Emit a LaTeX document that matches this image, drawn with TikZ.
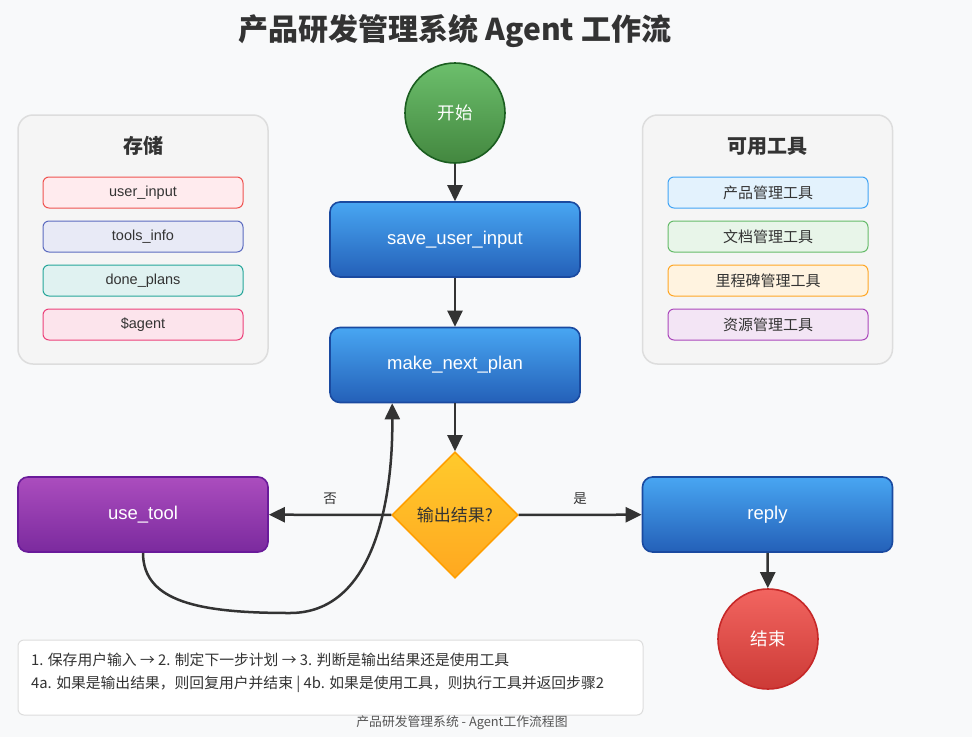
\documentclass[tikz,border=0pt]{standalone}
\usepackage{fontspec}
\setmainfont{Noto Sans CJK SC}
\newfontfamily\lat{Liberation Sans}
\usetikzlibrary{arrows.meta,shapes.geometric}
\definecolor{bg}{HTML}{F8F9FA}
\definecolor{ink}{HTML}{333333}
\definecolor{panelfill}{HTML}{F5F5F5}
\definecolor{panelline}{HTML}{DDDDDD}
\definecolor{bluetop}{HTML}{48A6F2}
\definecolor{bluebot}{HTML}{2460B8}
\definecolor{blueline}{HTML}{1A4AA0}
\definecolor{greentop}{HTML}{6CBF6C}
\definecolor{greenbot}{HTML}{43873F}
\definecolor{greenline}{HTML}{1B5E20}
\definecolor{redtop}{HTML}{F26560}
\definecolor{redbot}{HTML}{CC3A36}
\definecolor{redline}{HTML}{C62828}
\definecolor{purptop}{HTML}{AB4DBE}
\definecolor{purpbot}{HTML}{7B2A9E}
\definecolor{purpline}{HTML}{6A1B9A}
\definecolor{orgtop}{HTML}{FFCA2C}
\definecolor{orgbot}{HTML}{FFA820}
\definecolor{orgline}{HTML}{FF9F00}
\tikzset{
  every node/.style={text=ink},
  flowbox/.style={rounded corners=10pt, minimum width=250pt, minimum height=75pt, line width=1.6pt, text=white, font=\lat\fontsize{18.5}{20}\selectfont, inner sep=0pt},
  bluebox/.style={flowbox, draw=blueline, top color=bluetop, bottom color=bluebot},
  purpbox/.style={flowbox, draw=purpline, top color=purptop, bottom color=purpbot},
  roundnode/.style={circle, minimum size=100pt, line width=1.6pt, text=white, font=\fontsize{17.5}{19}\selectfont, inner sep=0pt},
  panel/.style={rounded corners=15pt, minimum width=250pt, minimum height=249pt, draw=panelline, fill=panelfill, line width=1.5pt},
  item/.style={rounded corners=6pt, minimum width=200pt, minimum height=31pt, line width=1pt, font=\fontsize{15}{16}\selectfont, inner sep=0pt},
  latitem/.style={item, font=\lat\fontsize{14.5}{16}\selectfont},
  paneltitle/.style={font=\fontsize{20}{22}\selectfont\bfseries},
  conn/.style={draw=ink, line width=2.5pt, -{Triangle[length=16pt,width=15pt]}},
  lbl/.style={font=\fontsize{13.5}{15}\selectfont},
}
\begin{document}
\begin{tikzpicture}[x=1pt,y=-1pt]
\useasboundingbox[fill=bg] (0,0) rectangle (972,737);
% title
\node[font=\fontsize{30}{33}\selectfont\bfseries] (title) at (455,31) {产品研发管理系统 Agent 工作流};
% storage panel
\node[panel] (store) at (143,239.5) {};
\node[paneltitle] (storet) at (143,146) {存储};
\node[latitem, fill={rgb,255:red,255;green,235;blue,238}, draw={rgb,255:red,239;green,83;blue,80}] (s1) at (143,192.5) {user\_input};
\node[latitem, fill={rgb,255:red,232;green,234;blue,246}, draw={rgb,255:red,92;green,107;blue,192}] (s2) at (143,236.5) {tools\_info};
\node[latitem, fill={rgb,255:red,224;green,242;blue,241}, draw={rgb,255:red,38;green,166;blue,154}] (s3) at (143,280.5) {done\_plans};
\node[latitem, fill={rgb,255:red,252;green,228;blue,236}, draw={rgb,255:red,236;green,64;blue,122}] (s4) at (143,324.5) {\$agent};
% tools panel
\node[panel] (tools) at (767.5,239.5) {};
\node[paneltitle] (toolst) at (767.5,146) {可用工具};
\node[item, fill={rgb,255:red,227;green,242;blue,253}, draw={rgb,255:red,66;green,165;blue,245}] (t1) at (768,192.5) {产品管理工具};
\node[item, fill={rgb,255:red,232;green,245;blue,233}, draw={rgb,255:red,102;green,187;blue,106}] (t2) at (768,236.5) {文档管理工具};
\node[item, fill={rgb,255:red,255;green,243;blue,224}, draw={rgb,255:red,255;green,167;blue,38}] (t3) at (768,280.5) {里程碑管理工具};
\node[item, fill={rgb,255:red,243;green,229;blue,245}, draw={rgb,255:red,171;green,71;blue,188}] (t4) at (768,324.5) {资源管理工具};
% flow nodes
\node[roundnode, draw=greenline, top color=greentop, bottom color=greenbot] (start) at (455,113) {开始};
\node[bluebox] (save) at (455,239.5) {save\_user\_input};
\node[bluebox] (plan) at (455,365) {make\_next\_plan};
\node[diamond, minimum width=126pt, minimum height=126pt, inner sep=0pt, draw=orgline, line width=1.6pt, top color=orgtop, bottom color=orgbot, font=\fontsize{17}{18}\selectfont] (dec) at (455,515) {输出结果?};
\node[purpbox] (tool) at (143,514.5) {use\_tool};
\node[bluebox] (reply) at (767.5,514.5) {reply};
\node[roundnode, draw=redline, top color=redtop, bottom color=redbot] (end) at (768,639) {结束};
% connectors
\draw[conn] (start) -- (save);
\draw[conn] (save) -- (plan);
\draw[conn] (plan) -- (dec);
\draw[conn] (dec) -- node[lbl, above=6pt] {否} (tool);
\draw[conn] (dec) -- node[lbl, above=6pt] {是} (reply);
\draw[conn] (reply) -- (end);
\coordinate (planin) at ([xshift=63pt]plan.south west);
\draw[conn] (tool.south) .. controls (143,602) and (200,613) .. (290,613) .. controls (372,613) and (393,505) .. (planin);
% notes
\node[rounded corners=6pt, draw=panelline, fill=white, line width=1pt, minimum width=625pt, minimum height=75pt] (notes) at (330.5,677.5) {};
\node[anchor=west, inner sep=0pt, font=\fontsize{14.8}{16}\selectfont] (n1) at (31,660) {1. 保存用户输入 → 2. 制定下一步计划 → 3. 判断是输出结果还是使用工具};
\node[anchor=west, inner sep=0pt, font=\fontsize{14.8}{16}\selectfont] (n2) at (31,684) {4a. 如果是输出结果，则回复用户并结束 | 4b. 如果是使用工具，则执行工具并返回步骤2};
\node[font=\fontsize{12.8}{14}\selectfont, text={rgb,255:red,85;green,85;blue,85}] (cap) at (462,723) {产品研发管理系统 - Agent工作流程图};
\end{tikzpicture}
\end{document}
